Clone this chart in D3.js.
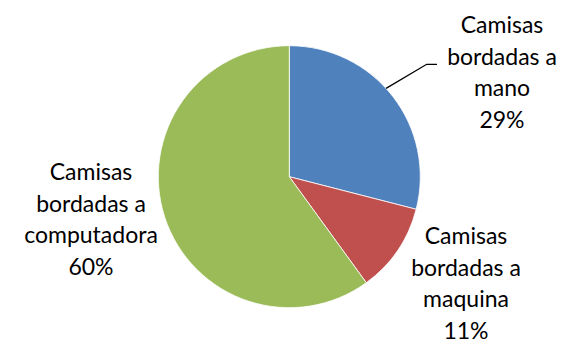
<!DOCTYPE html>
<html>
<head>
<meta charset="utf-8">
<script src="https://cdn.jsdelivr.net/npm/d3@7"></script>
<style>
  body { margin: 0; background: #fff; }
  text { font-family: Lato, "Open Sans", sans-serif; fill: #000; }
</style>
</head>
<body>
<div id="chartArea"></div>
<script>
var categories = ['Camisas bordadas a mano', 'Camisas bordadas a maquina', 'Camisas bordadas a computadora'];
var values = [29, 11, 60];
var labelLines = [
    ['Camisas', 'bordadas a', 'mano', '29%'],
    ['Camisas', 'bordadas a', 'maquina', '11%'],
    ['Camisas', 'bordadas a', 'computadora', '60%']
];
var colors = ['#4F81BD', '#C0504D', '#9BBB59'];

// where each label block sits (center x, first baseline)
var labelPos = [
    { x: 502, y: 33 },
    { x: 466, y: 244 },
    { x: 91, y: 180 }
];

var w = 565, h = 343;
var cx = 289.3, cy = 176.7, r = 131;

var svg = d3.select('#chartArea').append('svg')
    .attr('width', w)
    .attr('height', h);

var pie = d3.pie().sort(null).value(function(d) { return d; });
var arc = d3.arc().innerRadius(0).outerRadius(r);
var arcs = pie(values);

var g = svg.append('g')
    .attr('transform', 'translate(' + cx + ',' + cy + ')');

g.selectAll('path')
    .data(arcs)
    .enter()
    .append('path')
    .attr('d', arc)
    .attr('fill', function(d, i) { return colors[i]; })
    .attr('stroke', '#fff')
    .attr('stroke-width', 0.8);

// leader line for the first slice
var a0 = arcs[0];
var mid = (a0.startAngle + a0.endAngle) / 2 - 0.08;
var p1 = [cx + Math.sin(mid) * r, cy - Math.cos(mid) * r];
svg.append('polyline')
    .attr('points', [p1, [426.7, 64.3], [437, 64.3]].map(function(p) { return p.join(','); }).join(' '))
    .attr('fill', 'none')
    .attr('stroke', '#000')
    .attr('stroke-width', 1.3);

var labels = svg.selectAll('text.lbl')
    .data(labelLines)
    .enter()
    .append('text')
    .attr('class', 'lbl')
    .attr('text-anchor', 'middle')
    .attr('font-size', 23);

labels.selectAll('tspan')
    .data(function(d, i) { return d.map(function(s) { return { s: s, i: i }; }); })
    .enter()
    .append('tspan')
    .attr('x', function(d) { return labelPos[d.i].x; })
    .attr('y', function(d, j) { return labelPos[d.i].y + j * 31.5; })
    .text(function(d) { return d.s; });
</script>
</body>
</html>
